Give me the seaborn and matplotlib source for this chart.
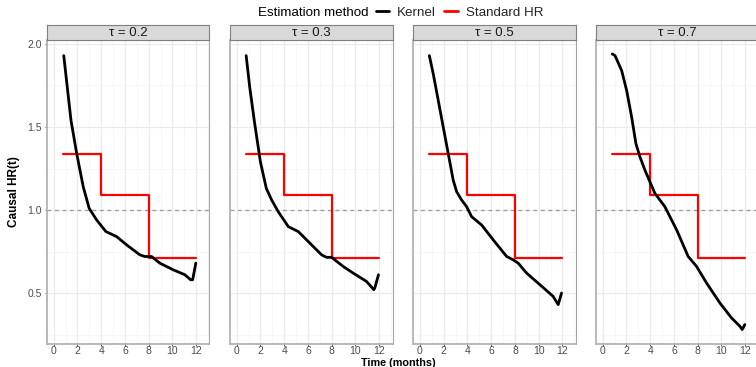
import numpy as np
import pandas as pd
import matplotlib
matplotlib.use("Agg")
import matplotlib.pyplot as plt
from matplotlib.lines import Line2D
import seaborn as sns

# ---------------- data ----------------
taus = ["0.2", "0.3", "0.5", "0.7"]

kernel_t_02 = [0.85, 1.46, 1.94, 2.49, 2.99, 3.62, 4.40, 5.30, 6.14, 7.26, 7.68, 8.24, 8.94, 10.06, 11.05, 11.53, 11.70, 11.97]
kernel_hr_02 = [1.93, 1.54, 1.34, 1.14, 1.01, 0.94, 0.87, 0.84, 0.79, 0.73, 0.72, 0.72, 0.68, 0.64, 0.61, 0.58, 0.58, 0.68]

kernel_t_03 = [0.80, 1.10, 1.50, 2.00, 2.50, 2.95, 3.50, 4.35, 5.19, 6.03, 7.15, 7.57, 7.99, 8.97, 9.81, 10.93, 11.55, 11.63, 11.94]
kernel_hr_03 = [1.93, 1.74, 1.53, 1.29, 1.13, 1.06, 0.99, 0.90, 0.87, 0.81, 0.73, 0.715, 0.715, 0.66, 0.62, 0.57, 0.52, 0.53, 0.61]

kernel_t_05 = [0.79, 1.12, 1.54, 1.96, 2.38, 2.80, 3.09, 3.51, 3.93, 4.35, 5.19, 6.17, 7.30, 7.85, 8.27, 8.98, 10.10, 11.21, 11.64, 11.92]
kernel_hr_05 = [1.93, 1.82, 1.66, 1.50, 1.34, 1.18, 1.11, 1.06, 1.02, 0.96, 0.91, 0.82, 0.72, 0.70, 0.68, 0.62, 0.55, 0.48, 0.43, 0.50]

kernel_t_07 = [0.81, 1.04, 1.60, 2.02, 2.44, 2.80, 3.14, 3.56, 3.98, 4.40, 5.24, 6.23, 7.20, 7.91, 8.75, 9.87, 10.85, 11.55, 11.75, 11.97]
kernel_hr_07 = [1.94, 1.93, 1.84, 1.72, 1.56, 1.40, 1.32, 1.24, 1.17, 1.10, 1.02, 0.88, 0.72, 0.66, 0.56, 0.44, 0.35, 0.30, 0.28, 0.31]

std_t = [0.8, 4.0, 8.0, 12.0]
std_hr = [1.34, 1.09, 0.71, 0.71]

kernel_t = [kernel_t_02, kernel_t_03, kernel_t_05, kernel_t_07]
kernel_hr = [kernel_hr_02, kernel_hr_03, kernel_hr_05, kernel_hr_07]

x_ticks = [0, 2, 4, 6, 8, 10, 12]
y_ticks = [0.5, 1.0, 1.5, 2.0]

# ---------------- style ----------------
sns.set_theme(style="white")
plt.rcParams["font.family"] = ["Liberation Sans", "DejaVu Sans"]

W, H = 756, 367
fig = plt.figure(figsize=(W / 100, H / 100), dpi=100)

def fx(px):
    return px / W

def fy(py):
    return 1 - py / H

panel_lefts = [47, 230, 413.3, 596]
panel_w = 162.5
panel_top, panel_bot = 40, 344
strip_top = 25

grey_tick = "#4D4D4D"

for i, tau in enumerate(taus):
    left = panel_lefts[i]
    ax = fig.add_axes([fx(left), fy(panel_bot), panel_w / W, (panel_bot - panel_top) / H])
    df_k = pd.DataFrame({"t": kernel_t[i], "hr": kernel_hr[i]})
    df_s = pd.DataFrame({"t": std_t, "hr": std_hr})

    # grid
    for xv in np.arange(0, 14, 1):
        ax.axvline(xv, color="#EBEBEB" if xv % 2 == 0 else "#F4F4F4",
                   lw=0.9 if xv % 2 == 0 else 0.5, zorder=0)
    for yv in np.arange(0.25, 2.1, 0.25):
        major = abs((yv * 2) - round(yv * 2)) < 1e-9
        ax.axhline(yv, color="#EBEBEB" if major else "#F4F4F4",
                   lw=0.9 if major else 0.5, zorder=0)

    ax.axhline(1.0, color="#9A9A9A", lw=0.9, ls=(0, (3, 3)), zorder=1)

    sns.lineplot(data=df_s, x="t", y="hr", ax=ax, color="#FF0000", lw=1.6,
                 drawstyle="steps-post", zorder=2, estimator=None)
    sns.lineplot(data=df_k, x="t", y="hr", ax=ax, color="black", lw=2.0,
                 zorder=3, estimator=None, sort=False)

    ax.set_xlim(-0.56, 13.12)
    ax.set_ylim(0.193, 2.024)
    ax.set_xticks(x_ticks)
    ax.set_yticks(y_ticks)
    ax.set_xlabel("")
    ax.set_ylabel("")
    ax.tick_params(axis="both", which="both", length=1.5, width=0.6, color="#333333",
                   labelsize=7.5, labelcolor=grey_tick, direction="out",
                   bottom=True, left=True)
    ax.tick_params(axis="x", pad=0.3)
    ax.tick_params(axis="y", pad=2.0)
    ax.set_xticklabels([str(v) for v in x_ticks])
    if i == 0:
        ax.set_yticklabels(["0.5", "1.0", "1.5", "2.0"])
    else:
        ax.tick_params(axis="y", labelleft=False, left=False)
    for s in ax.spines.values():
        s.set_color("#A6A6A6")
        s.set_linewidth(0.8)
        s.set_visible(True)
    ax.spines["left"].set_linewidth(1.3)
    ax.spines["bottom"].set_linewidth(1.3)
    ax.spines["left"].set_color("#B3B3B3")
    ax.spines["bottom"].set_color("#B3B3B3")

    # strip
    sax = fig.add_axes([fx(left), fy(panel_top), panel_w / W, (panel_top - strip_top) / H])
    sax.set_facecolor("#D9D9D9")
    sax.set_xticks([])
    sax.set_yticks([])
    for s in sax.spines.values():
        s.set_color("#7F7F7F")
        s.set_linewidth(0.8)
        s.set_visible(True)
    sax.text(0.5, 0.45, f"τ = {tau}", transform=sax.transAxes, ha="center", va="center",
             fontsize=9.5, color="#1A1A1A")

# axis titles
fig.text(fx(14), fy((panel_top + panel_bot) / 2), "Causal HR(t)", rotation=90,
         ha="center", va="center", fontsize=8.5, fontweight="bold", color="black")
fig.text(fx(398), fy(366.5), "Time (months)", ha="center", va="baseline",
         fontsize=7.8, fontweight="bold", color="black")

# legend
fig.text(fx(258), fy(12.5), "Estimation method", ha="left", va="center",
         fontsize=9.6, color="black")
handles = [Line2D([0], [0], color="black", lw=2.0),
           Line2D([0], [0], color="#FF0000", lw=2.0)]
fig.legend(handles, ["Kernel", "Standard HR"], ncol=2, frameon=False,
           loc="center left", bbox_to_anchor=(fx(376), fy(12.5)),
           fontsize=9.6, handlelength=1.0, handletextpad=0.6, columnspacing=0.6,
           borderpad=0, borderaxespad=0)

fig.savefig("out.png", dpi=100)
